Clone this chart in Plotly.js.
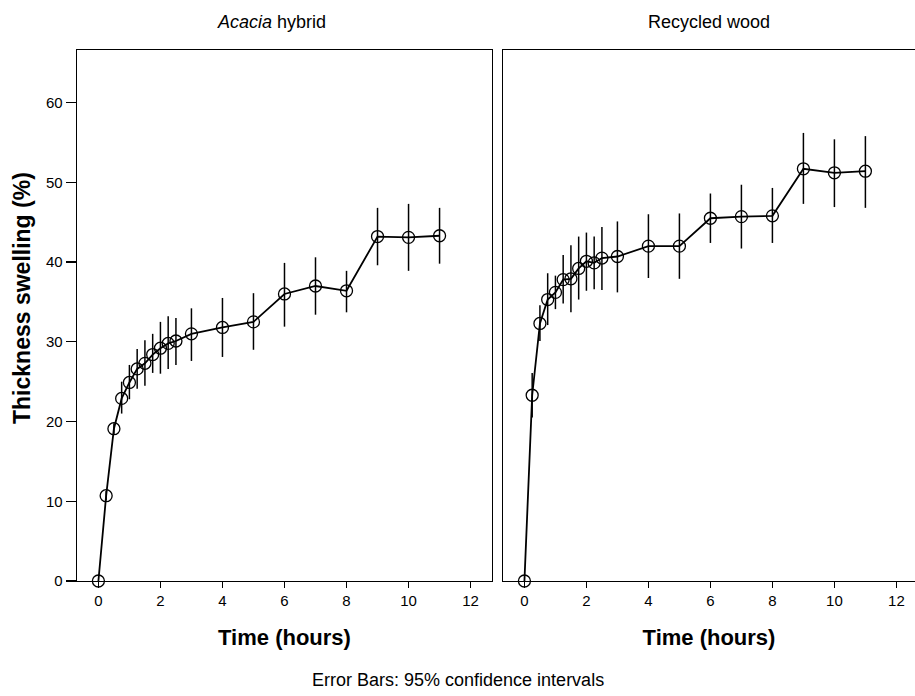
<!DOCTYPE html>
<html>
<head>
<meta charset="utf-8">
<script src="https://cdn.plot.ly/plotly-3.0.1.min.js"></script>
<style>html,body{margin:0;padding:0;background:#fff}#chart{width:915px;height:696px}</style>
</head>
<body>
<div id="chart"></div>
<script>
// Time points (hours)
const timeHours = [0, 0.25, 0.5, 0.75, 1, 1.25, 1.5, 1.75, 2, 2.25, 2.5, 3, 4, 5, 6, 7, 8, 9, 10, 11];

// Acacia hybrid: mean thickness swelling (%) and 95% CI bounds
const acaciaMean  = [0, 10.7, 19.1, 22.9, 24.9, 26.6, 27.3, 28.4, 29.2, 29.8, 30.1, 31.0, 31.8, 32.5, 36.0, 37.0, 36.4, 43.2, 43.1, 43.3];
const acaciaUpper = [0, 11.3, 19.8, 25.0, 27.1, 29.1, 30.2, 31.0, 32.5, 33.2, 33.0, 34.2, 35.5, 36.1, 39.9, 40.6, 38.9, 46.8, 47.3, 46.8];
const acaciaLower = [0, 10.1, 18.4, 21.0, 22.8, 24.1, 24.5, 26.1, 26.0, 26.6, 27.1, 27.6, 28.1, 29.0, 31.9, 33.4, 33.7, 39.6, 38.9, 39.8];

// Recycled wood: mean thickness swelling (%) and 95% CI bounds
const recycledMean  = [0, 23.3, 32.3, 35.3, 36.2, 37.8, 37.9, 39.2, 40.1, 39.9, 40.5, 40.7, 42.0, 42.0, 45.5, 45.7, 45.8, 51.7, 51.2, 51.4];
const recycledUpper = [0, 26.1, 34.6, 38.6, 38.3, 40.9, 42.1, 43.2, 43.7, 43.2, 44.4, 45.1, 46.0, 46.1, 48.6, 49.7, 49.3, 56.2, 55.4, 55.8];
const recycledLower = [0, 20.5, 30.1, 32.1, 34.1, 34.8, 33.7, 35.3, 36.4, 36.6, 36.5, 36.2, 38.0, 37.9, 42.4, 41.7, 42.4, 47.3, 46.9, 46.8];

// Tick labels
const xTicks = [0, 2, 4, 6, 8, 10, 12];
const yTicks = [0, 10, 20, 30, 40, 50, 60];

const panelTitles = ['<i>Acacia</i> hybrid', 'Recycled wood'];
const xTitle = 'Time (hours)';
const yTitle = 'Thickness swelling (%)';
const footnote = 'Error Bars: 95% confidence intervals';

function plusErr(mean, upper) { return mean.map((m, i) => upper[i] - m); }
function minusErr(mean, lower) { return mean.map((m, i) => m - lower[i]); }

const FONT = 'Liberation Sans, Arial, sans-serif';

function series(mean, upper, lower, xa, ya) {
  return {
    x: timeHours, y: mean, xaxis: xa, yaxis: ya,
    type: 'scatter', mode: 'lines+markers',
    line: {color: '#000', width: 1.8},
    marker: {symbol: 'circle-open', size: 12, color: '#000', line: {width: 1.3, color: '#000'}},
    error_y: {type: 'data', symmetric: false, array: plusErr(mean, upper), arrayminus: minusErr(mean, lower),
              color: '#000', thickness: 1.5, width: 0},
    cliponaxis: false,
    hoverinfo: 'x+y', showlegend: false
  };
}

const data = [
  series(acaciaMean, acaciaUpper, acaciaLower, 'x', 'y'),
  series(recycledMean, recycledUpper, recycledLower, 'x2', 'y2')
];

const axisLine = {showline: true, linecolor: '#000', linewidth: 1.3, zeroline: false, showgrid: false};

const layout = {
  width: 915, height: 696,
  paper_bgcolor: '#fff', plot_bgcolor: '#fff',
  margin: {l: 77, r: 0, t: 50, b: 115},
  font: {family: FONT, color: '#000', size: 15},
  xaxis: Object.assign({}, axisLine, {
    domain: [0, 0.4952], range: [-0.69, 12.69], mirror: true,
    tickmode: 'array', tickvals: xTicks, ticks: 'outside', ticklen: 6, tickwidth: 1.3, tickcolor: '#000',
    tickfont: {size: 15},
    title: {text: '<b>' + xTitle + '</b>', font: {size: 22}, standoff: 21}
  }),
  yaxis: Object.assign({}, axisLine, {
    domain: [0, 1], range: [0, 66.6], mirror: true,
    tickmode: 'array', tickvals: yTicks, ticks: 'outside', ticklen: 10, tickwidth: 1.3, tickcolor: '#000',
    tickfont: {size: 15}
  }),
  xaxis2: Object.assign({}, axisLine, {
    domain: [0.5084, 1], range: [-0.69, 12.6], mirror: true, anchor: 'y2',
    tickmode: 'array', tickvals: xTicks, ticks: 'outside', ticklen: 6, tickwidth: 1.3, tickcolor: '#000',
    tickfont: {size: 15},
    title: {text: '<b>' + xTitle + '</b>', font: {size: 22}, standoff: 21}
  }),
  yaxis2: Object.assign({}, axisLine, {
    domain: [0, 1], range: [0, 66.6], anchor: 'x2', mirror: false,
    showticklabels: false, ticks: ''
  }),
  annotations: [
    {text: '<b>' + yTitle + '</b>', textangle: -90, xref: 'paper', yref: 'paper', x: 0, xshift: -55,
     y: 0.533, showarrow: false, font: {size: 23}, xanchor: 'center', yanchor: 'middle'},
    {text: panelTitles[0], xref: 'x domain', yref: 'paper', x: 0.468, y: 1, yshift: 28, showarrow: false,
     font: {size: 18}, xanchor: 'center', yanchor: 'middle'},
    {text: panelTitles[1], xref: 'x2 domain', yref: 'paper', x: 0.5, y: 1, yshift: 28, showarrow: false,
     font: {size: 18}, xanchor: 'center', yanchor: 'middle'},
    {text: footnote, xref: 'paper', yref: 'paper', x: 0.455, y: 0, yshift: -99, showarrow: false,
     font: {size: 18}, xanchor: 'center', yanchor: 'middle'}
  ]
};

Plotly.newPlot('chart', data, layout, {displayModeBar: false, staticPlot: true});
</script>
</body>
</html>
